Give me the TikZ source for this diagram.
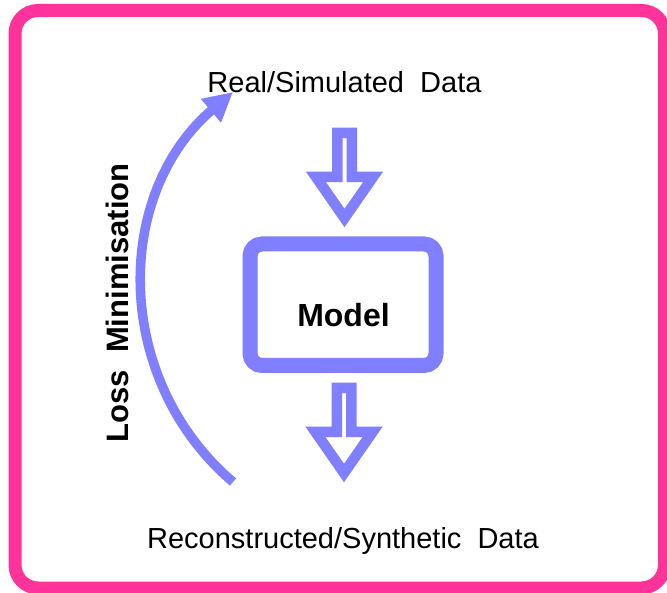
\documentclass[tikz,border=0pt]{standalone}
\usepackage{fontspec}
\setmainfont{Liberation Sans}
\usetikzlibrary{arrows.meta}
\definecolor{pinkframe}{RGB}{255,51,153}
\definecolor{blueline}{RGB}{127,127,255}
\begin{document}
\begin{tikzpicture}[x=1pt,y=-1pt,
  frame/.style={draw=pinkframe,line width=13pt,rounded corners=23pt},
  modelbox/.style={draw=blueline,fill=white,line width=15pt,rounded corners=12pt,
    minimum width=186pt,minimum height=121.5pt,inner sep=0pt},
  txt/.style={font=\fontsize{29}{34}\selectfont,inner sep=0pt,anchor=base},
  boldtxt/.style={font=\fontsize{31}{36}\selectfont\bfseries,inner sep=0pt,anchor=base},
  blockarrow/.style={draw=blueline,fill=white,line width=10.5pt,miter limit=10},
  lossarrow/.style={draw=blueline,line width=9.5pt,-{Triangle[length=29pt,width=29pt]}},
  blockarr/.pic={\draw[blockarrow] (-7.25,0) -- (7.25,0) -- (7.25,44) -- (28.5,44)
      -- (0,85) -- (-28.5,44) -- (-7.25,44) -- cycle;}
]
\useasboundingbox (0,0) rectangle (667,593);
\clip (0,0) rectangle (667,593);
\fill[white] (0,0) rectangle (667,593);
\draw[frame] (15,10.5) rectangle (664.5,588);

\node[txt] (real) at (344.5,93) {Real/Simulated\ \ Data};
\node[txt] (recon) at (343,548) {Reconstructed/Synthetic\ \ Data};
\node[modelbox] (model) at (343,304.75) {};
\node[boldtxt,font=\fontsize{32}{38}\selectfont\bfseries] (modeltxt) at (343.5,327) {Model};
\node[boldtxt,rotate=90] (loss) at (128,303) {Loss\ \ Minimisation};

\coordinate (intop) at (344.5,133);
\coordinate (outtop) at (344,388);
\pic at (intop) {blockarr};
\pic at (outtop) {blockarr};

\coordinate (lossstart) at (233,482);
\coordinate (losstip) at (233,92);
\draw[lossarrow] (lossstart) .. controls (113,379.8) and (113,194.2) .. (losstip);
\end{tikzpicture}
\end{document}
